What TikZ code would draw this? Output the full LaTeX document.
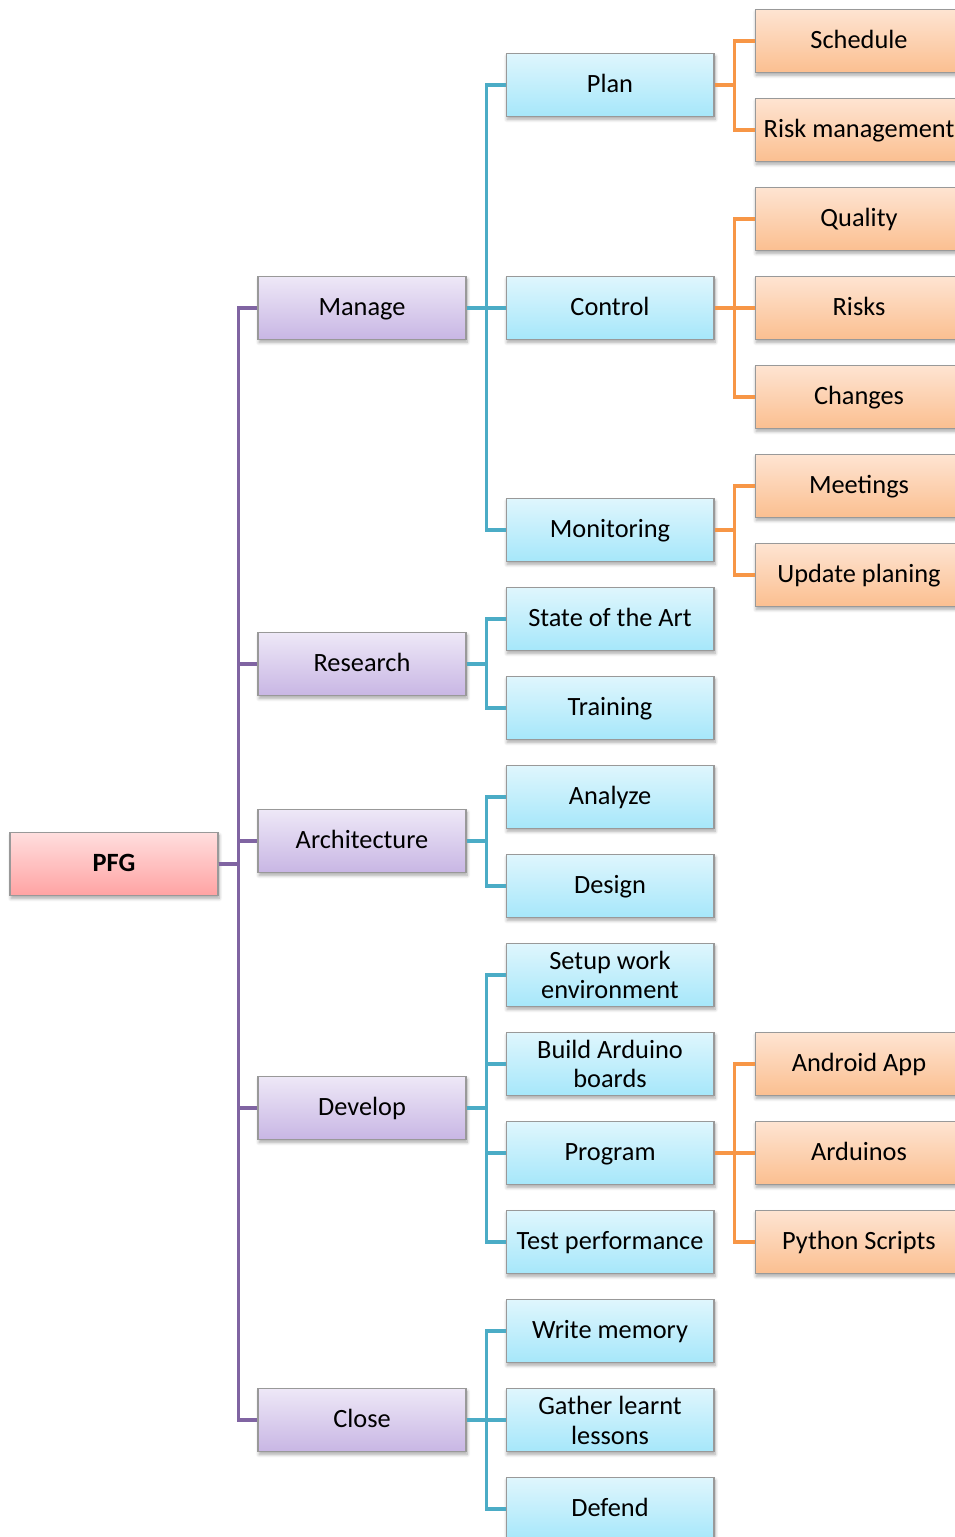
\documentclass[tikz,border=0pt]{standalone}
\usepackage{fontspec}
\setmainfont{Carlito}
\usepackage{tikz}
\usetikzlibrary{shadows.blur}

\definecolor{busPurple}{HTML}{8064A2}
\definecolor{busBlue}{HTML}{4BACC6}
\definecolor{busOrange}{HTML}{F79646}
\definecolor{rootTop}{HTML}{FFDEDE}
\definecolor{rootBot}{HTML}{FFA3A3}
\definecolor{phaseTop}{HTML}{EEE8F7}
\definecolor{phaseBot}{HTML}{C8B6E4}
\definecolor{taskTop}{HTML}{DFF6FD}
\definecolor{taskBot}{HTML}{A6E7FA}
\definecolor{subTop}{HTML}{FEE4D2}
\definecolor{subBot}{HTML}{FBBF90}

\tikzset{
  box/.style={draw=gray!80, line width=0.6pt, minimum width=4.16cm, minimum height=1.26cm,
    inner sep=1pt, align=center, font=\fontsize{15}{17}\selectfont,
    text height=0.87em, text depth=0pt,
    blur shadow={shadow blur steps=6, shadow xshift=0.6pt, shadow yshift=-1.6pt, shadow opacity=35}},
  twoline/.style={text height={}, text depth={}},
  rootbox/.style={box, top color=rootTop, bottom color=rootBot, font=\fontsize{15}{17}\selectfont\bfseries},
  phasebox/.style={box, top color=phaseTop, bottom color=phaseBot},
  taskbox/.style={box, top color=taskTop, bottom color=taskBot},
  subbox/.style={box, top color=subTop, bottom color=subBot},
  bus/.style={line width=2.1pt},
}

\begin{document}
\begin{tikzpicture}[x=0.02cm, y=-0.02cm]
\useasboundingbox (0,0) rectangle (955,1537);

% root and phases
\node[rootbox] (pfg) at (114,864) {PFG};
\node[phasebox] (manage) at (362,308) {Manage};
\node[phasebox] (research) at (362,664) {Research};
\node[phasebox] (archi) at (362,841) {Architecture};
\node[phasebox] (develop) at (362,1108) {Develop};
\node[phasebox] (close) at (362,1420) {Close};

% tasks
\node[taskbox] (plan) at (610,85) {Plan};
\node[taskbox] (control) at (610,308) {Control};
\node[taskbox] (monitor) at (610,530) {Monitoring};
\node[taskbox] (sota) at (610,619) {State of the Art};
\node[taskbox] (training) at (610,708) {Training};
\node[taskbox] (analyze) at (610,797) {Analyze};
\node[taskbox] (design) at (610,886) {Design};
\node[taskbox, twoline] (setup) at (610,975) {Setup work\\environment};
\node[taskbox, twoline] (build) at (610,1064) {Build Arduino\\boards};
\node[taskbox] (program) at (610,1153) {Program};
\node[taskbox] (test) at (610,1242) {Test performance};
\node[taskbox] (memory) at (610,1331) {Write memory};
\node[taskbox, twoline] (lessons) at (610,1420) {Gather learnt\\lessons};
\node[taskbox] (defend) at (610,1509) {Defend};

% subtasks
\node[subbox] (schedule) at (859,41) {Schedule};
\node[subbox] (riskman) at (859,130) {Risk management};
\node[subbox] (quality) at (859,219) {Quality};
\node[subbox] (risks) at (859,308) {Risks};
\node[subbox] (changes) at (859,397) {Changes};
\node[subbox] (meetings) at (859,486) {Meetings};
\node[subbox] (update) at (859,575) {Update planing};
\node[subbox] (android) at (859,1064) {Android App};
\node[subbox] (arduinos) at (859,1153) {Arduinos};
\node[subbox] (python) at (859,1242) {Python Scripts};

% connectors
\foreach \p in {manage,research,archi,develop,close}
  \draw[bus, busPurple] (pfg.east) -- ++(20,0) |- (\p.west);
\foreach \c in {plan,control,monitor}
  \draw[bus, busBlue] (manage.east) -- ++(20,0) |- (\c.west);
\foreach \c in {sota,training}
  \draw[bus, busBlue] (research.east) -- ++(20,0) |- (\c.west);
\foreach \c in {analyze,design}
  \draw[bus, busBlue] (archi.east) -- ++(20,0) |- (\c.west);
\foreach \c in {setup,build,program,test}
  \draw[bus, busBlue] (develop.east) -- ++(20,0) |- (\c.west);
\foreach \c in {memory,lessons,defend}
  \draw[bus, busBlue] (close.east) -- ++(20,0) |- (\c.west);
\foreach \c in {schedule,riskman}
  \draw[bus, busOrange] (plan.east) -- ++(20,0) |- (\c.west);
\foreach \c in {quality,risks,changes}
  \draw[bus, busOrange] (control.east) -- ++(20,0) |- (\c.west);
\foreach \c in {meetings,update}
  \draw[bus, busOrange] (monitor.east) -- ++(20,0) |- (\c.west);
\foreach \c in {android,arduinos,python}
  \draw[bus, busOrange] (program.east) -- ++(20,0) |- (\c.west);
\end{tikzpicture}
\end{document}
